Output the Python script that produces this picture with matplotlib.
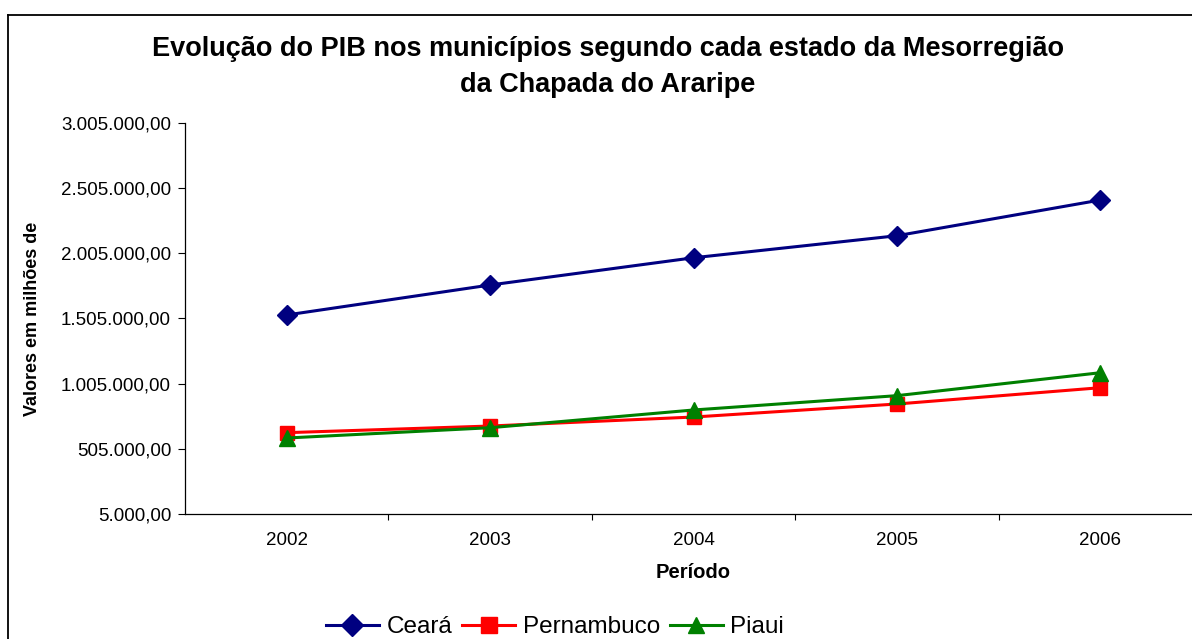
import matplotlib.pyplot as plt
from matplotlib.lines import Line2D
from matplotlib.ticker import FixedLocator, FuncFormatter

plt.rcParams['font.family'] = ['Liberation Sans', 'DejaVu Sans']

# data
anos = ['2002', '2003', '2004', '2005', '2006']
ceara = [1532000, 1762000, 1971000, 2140000, 2414000]
pernambuco = [629000, 680000, 749000, 849000, 974000]
piaui = [588000, 667000, 803000, 913000, 1089000]
y_ticks = [5000, 505000, 1005000, 1505000, 2005000, 2505000, 3005000]


def br_fmt(v, pos=None):
    s = '{:,.2f}'.format(v)
    return s.replace(',', '#').replace('.', ',').replace('#', '.')


fig = plt.figure(figsize=(11.92, 6.39), dpi=100)
ax = fig.add_axes([185 / 1192, 1 - 514 / 639, 1017 / 1192, 391 / 639])

x = list(range(len(anos)))
ax.plot(x, ceara, color='#000080', lw=2.2, marker='D', ms=10, label='Ceará')
ax.plot(x, pernambuco, color='#FF0000', lw=2.2, marker='s', ms=10, label='Pernambuco')
ax.plot(x, piaui, color='#008000', lw=2.2, marker='^', ms=11, label='Piaui')

ax.set_xlim(-0.5, len(anos) - 0.5)
ax.set_ylim(y_ticks[0], y_ticks[-1])
ax.yaxis.set_major_locator(FixedLocator(y_ticks))
ax.yaxis.set_major_formatter(FuncFormatter(br_fmt))

# category labels centred, tick marks between categories
ax.set_xticks(x)
ax.set_xticklabels(anos, fontsize=13.5)
ax.set_xticks([i + 0.5 for i in range(len(anos) - 1)], minor=True)
ax.tick_params(axis='x', which='major', length=0, pad=13)
ax.tick_params(axis='x', which='minor', length=4, direction='out', width=0.8)
ax.tick_params(axis='y', length=5, width=0.8, labelsize=13.5, pad=5)

for side in ['top', 'right']:
    ax.spines[side].set_visible(False)
ax.spines['left'].set_linewidth(0.9)
ax.spines['bottom'].set_linewidth(0.9)

ax.set_xlabel('Período', fontsize=14.5, fontweight='bold', labelpad=10)
ax.set_ylabel('Valores em milhões de', fontsize=13, fontweight='bold', labelpad=0)
ax.yaxis.set_label_coords(-0.1416, 0.5)

fig.text(0.51, 1 - 67 / 639,
         'Evolução do PIB nos municípios segundo cada estado da Mesorregião\nda Chapada do Araripe',
         ha='center', va='center', fontsize=19.5, fontweight='bold', linespacing=1.45)

fig.legend(loc='center', bbox_to_anchor=(555 / 1192, 1 - 627 / 639), ncol=3,
           frameon=False, fontsize=17.5, handlelength=2.2, handletextpad=0.3,
           columnspacing=0.4, borderaxespad=0, markerscale=1.1)

# outer chart border (top and left visible)
fig.add_artist(Line2D([8 / 1192, 1.0], [1 - 15 / 639, 1 - 15 / 639],
                      color='black', lw=1.3, transform=fig.transFigure))
fig.add_artist(Line2D([8 / 1192, 8 / 1192], [0, 1 - 15 / 639],
                      color='black', lw=1.3, transform=fig.transFigure))

fig.savefig('out.png', dpi=100)
